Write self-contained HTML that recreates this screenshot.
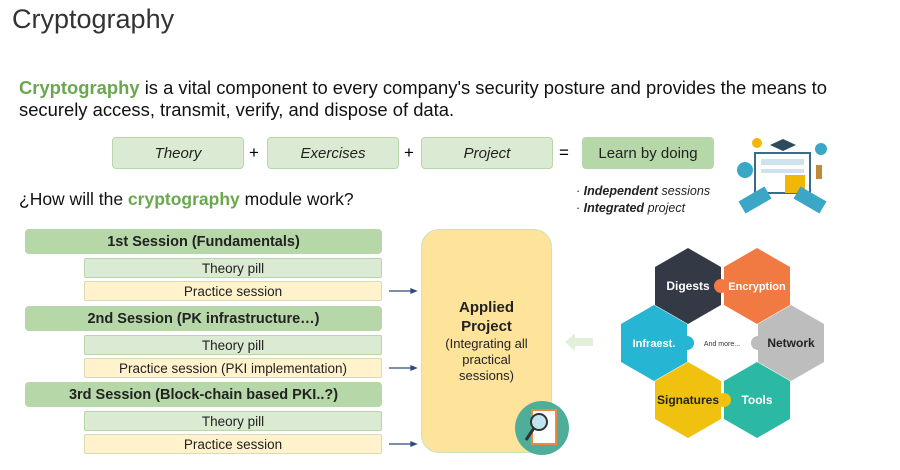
<!DOCTYPE html>
<html><head><meta charset="utf-8"><style>
body{margin:0;width:900px;height:470px;background:#fff;position:relative;overflow:hidden;font-family:"Liberation Sans",sans-serif}
.a{position:absolute}
.b{position:absolute;box-sizing:border-box;display:flex;align-items:center;justify-content:center;font-family:"Liberation Sans",sans-serif;color:#222}
.top{background:#dbead3;border:1px solid #b8d6a9;border-radius:4px;font-style:italic;font-size:15px;top:137px;height:32px;width:132px}
.h{background:#b6d7a8;border-radius:4px;font-weight:bold;font-size:14.5px;left:25px;width:357px;height:25px}
.t{background:#dbead3;border:1px solid #b8d6a9;border-radius:2px;font-size:13.5px;left:84px;width:298px;height:20px}
.p{background:#fff2cc;border:1px solid #d9dcb0;border-radius:2px;font-size:13.5px;left:84px;width:298px;height:20px}
.op{position:absolute;font-size:17px;top:143px}
</style></head><body>
<div class="a" style="left:12px;top:4px;font-size:27px;color:#333">Cryptography</div>
<div class="a" style="left:19px;top:77px;font-size:18.4px;line-height:22px;color:#111;width:840px"><b style="color:#6aa84f">Cryptography</b> is a vital component to every company's security posture and provides the means to securely access, transmit, verify, and dispose of data.</div>
<div class="b top" style="left:112px">Theory</div><div class="op" style="left:249px">+</div>
<div class="b top" style="left:267px">Exercises</div><div class="op" style="left:404px">+</div>
<div class="b top" style="left:421px">Project</div><div class="op" style="left:559px">=</div>
<div class="b top" style="left:582px;background:#b6d7a8;font-style:normal">Learn by doing</div>
<div class="a" style="left:19px;top:189px;font-size:17.5px;color:#111">¿How will the <b style="color:#6aa84f">cryptography</b> module work?</div>
<div class="a" style="left:576px;top:183px;font-size:12.5px;line-height:17px;color:#222">· <b><i>Independent</i></b> <i>sessions</i><br>· <b><i>Integrated</i></b> <i>project</i></div>
<svg class="a" style="left:735px;top:135px" width="100" height="80">
<rect x="20" y="18" width="55" height="40" fill="#fff" stroke="#3b6a8a" stroke-width="2"/>
<rect x="26" y="24" width="43" height="6" fill="#cfe3ef"/><rect x="26" y="34" width="43" height="4" fill="#cfe3ef"/>
<polygon points="35,10 48,4 61,10 48,16" fill="#2e4a5c"/>
<circle cx="10" cy="35" r="8" fill="#3aa7c7"/><circle cx="22" cy="8" r="5" fill="#f2b705"/>
<circle cx="86" cy="14" r="6" fill="#3aa7c7"/><rect x="81" y="30" width="6" height="14" fill="#c08a3c"/>
<rect x="50" y="40" width="20" height="18" fill="#f2b705"/><rect x="5" y="58" width="30" height="14" fill="#3aa7c7" transform="rotate(-30 20 65)"/>
<rect x="60" y="58" width="30" height="14" fill="#3aa7c7" transform="rotate(30 75 65)"/>
</svg>
<div class="b h" style="top:229px">1st Session (Fundamentals)</div>
<div class="b t" style="top:258px">Theory pill</div>
<div class="b p" style="top:281px">Practice session</div>
<div class="b h" style="top:306px">2nd Session (PK infrastructure…)</div>
<div class="b t" style="top:335px">Theory pill</div>
<div class="b p" style="top:358px">Practice session (PKI implementation)</div>
<div class="b h" style="top:382px">3rd Session (Block-chain based PKI..?)</div>
<div class="b t" style="top:411px">Theory pill</div>
<div class="b p" style="top:434px">Practice session</div>
<svg class="a" style="left:385px;top:280px" width="36" height="170">
<g stroke="#2f4b7c" stroke-width="1.3" fill="#2f4b7c">
<line x1="4" y1="11" x2="28" y2="11"/><polygon points="31,11 26,9 26,13"/>
<line x1="4" y1="88" x2="28" y2="88"/><polygon points="31,88 26,86 26,90"/>
<line x1="4" y1="164" x2="28" y2="164"/><polygon points="31,164 26,162 26,166"/></g></svg>
<div class="b" style="left:421px;top:229px;width:131px;height:224px;background:#fde49a;border:1px solid #cfe0bd;border-radius:18px;flex-direction:column;font-size:13px;text-align:center;line-height:16px">
<div style="font-weight:bold;font-size:15px;line-height:19px">Applied<br>Project</div>(Integrating all<br>practical<br>sessions)</div>
<svg class="a" style="left:512px;top:398px" width="60" height="60">
<circle cx="30" cy="30" r="27" fill="#4fae9a"/><rect x="20" y="12" width="24" height="34" fill="#fff" stroke="#f08a3a" stroke-width="2"/>
<circle cx="27" cy="24" r="8" fill="#bfe3ef" stroke="#333" stroke-width="2"/><line x1="22" y1="30" x2="14" y2="42" stroke="#333" stroke-width="3"/></svg>
<svg class="a" style="left:565px;top:332px" width="30" height="20"><polygon points="0,10 10,1 10,6 28,6 28,14 10,14 10,19" fill="#e2efd9"/></svg>
<svg class="a" style="left:600px;top:230px" width="300" height="230" font-family="Liberation Sans" font-weight="bold" text-anchor="middle">
<polygon points="88,18 121,37 121,75 88,94 55,75 55,37" fill="#333a45"/>
<polygon points="157,18 190,37 190,75 157,94 124,75 124,37" fill="#f07a42"/>
<polygon points="191,75 224,94 224,132 191,151 158,132 158,94" fill="#bdbdbd"/>
<polygon points="157,132 190,151 190,189 157,208 124,189 124,151" fill="#2bb9a3"/>
<polygon points="88,132 121,151 121,189 88,208 55,189 55,151" fill="#f0c20f"/>
<polygon points="54,75 87,94 87,132 54,151 21,132 21,94" fill="#27b5d4"/>
<circle cx="121" cy="56" r="7" fill="#f07a42"/><circle cx="158" cy="113" r="7" fill="#bdbdbd"/>
<circle cx="124" cy="170" r="7" fill="#f0c20f"/><circle cx="87" cy="113" r="7" fill="#27b5d4"/>
<text x="88" y="60" fill="#fff" font-size="12">Digests</text>
<text x="157" y="60" fill="#fff" font-size="11">Encryption</text>
<text x="191" y="117" fill="#222" font-size="12">Network</text>
<text x="157" y="174" fill="#fff" font-size="12">Tools</text>
<text x="88" y="174" fill="#222" font-size="12">Signatures</text>
<text x="54" y="117" fill="#fff" font-size="11">Infraest.</text>
<text x="122" y="116" fill="#333" font-size="7" font-weight="normal">And more...</text>
</svg>
</body></html>
